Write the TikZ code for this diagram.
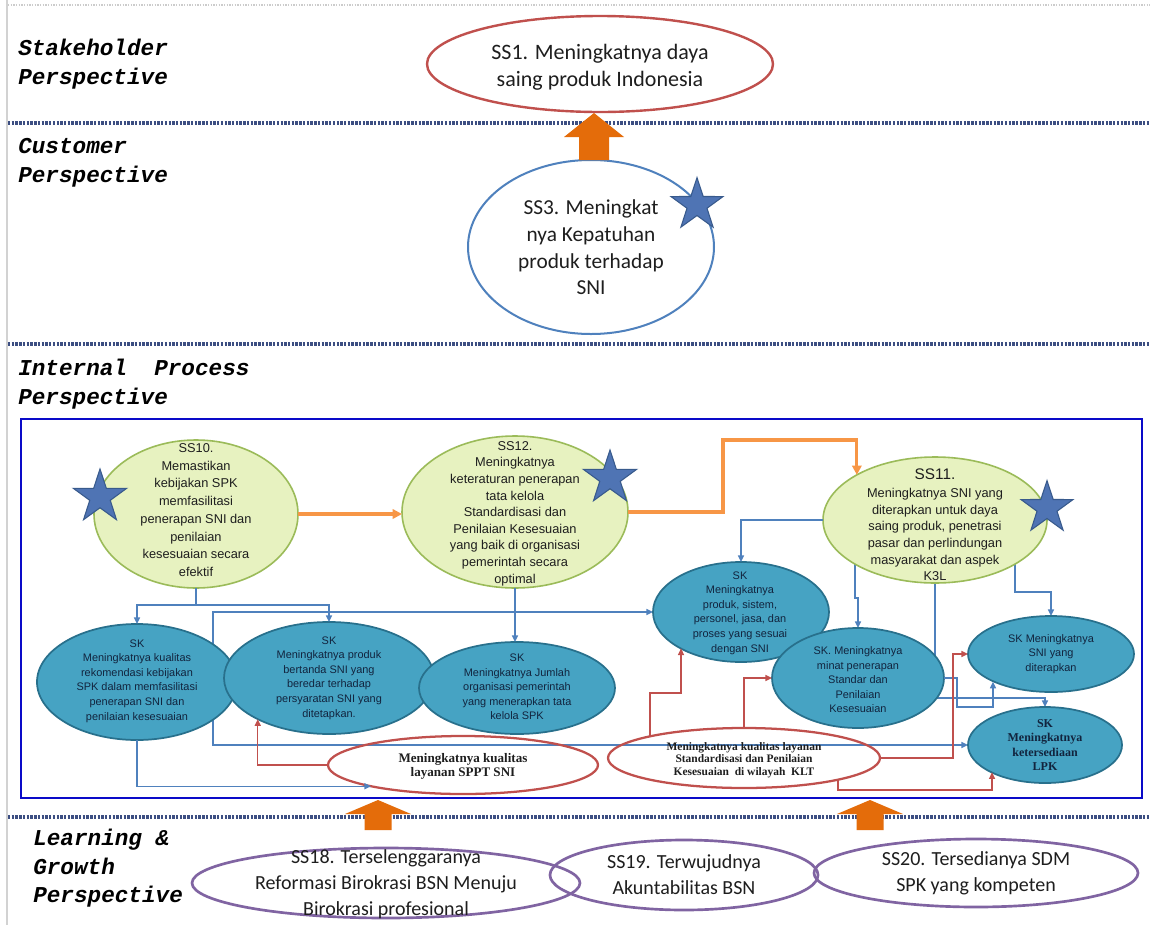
\documentclass[tikz,border=0pt]{standalone}
\usepackage{fontspec}
\usetikzlibrary{shapes.geometric,arrows.meta,calc}
\newfontfamily\fcal{Carlito}
\newfontfamily\fari{Liberation Sans}
\newfontfamily\fser{Liberation Serif}
\newfontfamily\fmono{Liberation Mono}
\definecolor{sepc}{RGB}{60,78,130}
\definecolor{redc}{RGB}{192,80,77}
\definecolor{bluec}{RGB}{79,129,189}
\definecolor{purc}{RGB}{128,100,162}
\definecolor{grnfill}{RGB}{231,242,192}
\definecolor{grnline}{RGB}{155,187,89}
\definecolor{tealfill}{RGB}{70,163,195}
\definecolor{tealline}{RGB}{40,112,140}
\definecolor{skt}{RGB}{18,36,62}
\definecolor{sst}{RGB}{30,30,30}
\definecolor{starc}{RGB}{79,116,180}
\definecolor{starl}{RGB}{56,90,140}
\definecolor{orc}{RGB}{228,108,10}
\definecolor{orl}{RGB}{247,150,70}
\definecolor{boxc}{RGB}{10,10,200}
\pgfdeclarelayer{bg}
\pgfsetlayers{bg,main}
\begin{document}
\begin{tikzpicture}[x=0.75pt,y=-0.75pt,
  >={Triangle[length=5pt,width=4.5pt]},
  ell/.style={ellipse,inner sep=0pt,outer sep=0pt},
  ssg/.style={ell,fill=grnfill,draw=grnline,line width=1.2pt},
  skb/.style={ell,fill=tealfill,draw=tealline,line width=1.3pt},
  rde/.style={ell,draw=redc,line width=1.7pt},
  pre/.style={ell,draw=purc,line width=2pt},
  strs/.style={star,star points=5,star point ratio=2.6,fill=starc,draw=starl,line width=0.8pt,inner sep=0pt,outer sep=0pt,minimum size=41pt},
  sepl/.style={draw=sepc,line width=2.6pt,dash pattern=on 1.8pt off 1pt},
  lab/.style={font=\fmono\bfseries\itshape\fontsize{17}{21.4}\selectfont,align=left,anchor=west,inner sep=0pt},
  bl/.style={draw=bluec,line width=1.1pt},
  rd/.style={draw=redc,line width=1.1pt},
  org/.style={draw=orl,line width=2.3pt,-{Triangle[length=7pt,width=7pt]}},
  blk/.style={fill=orc},
  topt/.style={font=\fcal\fontsize{16.5}{20.2}\selectfont,align=center,inner sep=0pt,text=sst},
  bott/.style={font=\fcal\fontsize{15}{19.5}\selectfont,align=center,inner sep=0pt,text=sst},
  ssx/.style={font=\fari\fontsize{9.6}{12.45}\selectfont,align=center,inner sep=0pt,text=sst},
  skx/.style={font=\fari\fontsize{8.2}{10.9}\selectfont,align=center,inner sep=0pt,text=skt},
  rtx/.style={font=\fser\bfseries\fontsize{9.8}{10.6}\selectfont,align=center,inner sep=0pt,text=sst}
]
\useasboundingbox (0,0) rectangle (1150,925);
\begin{pgfonlayer}{bg}
\fill[white] (0,0) rectangle (1150,925);
\end{pgfonlayer}

% page edges and separators
\draw[gray!35,line width=0.8pt] (7,0) -- (7,925);
\draw[gray!40,line width=1pt,dash pattern=on 1pt off 1pt] (8,5) -- (1150,5);
\draw[sepl] (8,123) -- (1150,123);
\draw[sepl] (8,344) -- (1150,344);
\draw[sepl] (8,817) -- (1150,817);

% perspective labels
\node[lab] (lS) at (18,64) {Stakeholder\\Perspective};
\node[lab] (lC) at (18,162.5) {Customer\\Perspective};
\node[lab] (lI) at (18,384) {Internal~~Process\\Perspective};
\node[lab] (lL) at (33,868.5) {Learning \&\\Growth\\Perspective};

% internal process frame
\draw[boxc,line width=2.2pt] (21,419) rectangle (1142,798);

% top objectives
\node[ell,draw=redc,fill=white,line width=1.8pt,minimum width=259.5pt,minimum height=72pt] (SS1) at (600,64) {};
\node[topt] (tSS1) at (600,67) {SS1. Meningkatnya daya\\saing produk Indonesia};
\node[ell,draw=bluec,line width=1.5pt,minimum width=184.5pt,minimum height=130.5pt] (SS3) at (591,247) {};
\node[font=\fcal\fontsize{16}{20}\selectfont,align=center,inner sep=0pt,text=sst] (tSS3) at (591,247.5) {SS3. Meningkat\\nya Kepatuhan\\produk terhadap\\SNI};
\node[strs] (st3) at (697,205) {};

% internal process: strategic objectives
\node[ssg,minimum width=153pt,minimum height=111pt] (SS10) at (196,514) {};
\node[ssx,font=\fari\fontsize{9.6}{13.3}\selectfont] (tSS10) at (196,510) {SS10.\\Memastikan\\kebijakan SPK\\memfasilitasi\\penerapan SNI dan\\penilaian\\kesesuaian secara\\efektif};
\node[strs,minimum size=42pt] (st10) at (100,497) {};

\node[ssg,minimum width=169.5pt,minimum height=114pt] (SS12) at (515,512) {};
\node[ssx] (tSS12) at (515,513.5) {SS12.\\Meningkatnya\\keteraturan penerapan\\tata kelola\\Standardisasi dan\\Penilaian Kesesuaian\\yang baik di organisasi\\pemerintah secara\\optimal};
\node[strs,minimum size=42pt] (st12) at (610,478) {};

\node[ssg,minimum width=168pt,minimum height=94.5pt] (SS11) at (935,520) {};
\node[ssx] (tSS11) at (935,525) {{\fontsize{11.5}{13}\selectfont SS11.}\\[1pt]Meningkatnya SNI yang\\diterapkan untuk daya\\saing produk, penetrasi\\pasar dan perlindungan\\masyarakat dan aspek\\K3L};
\node[strs] (st11) at (1047,508) {};

% key objectives
\node[skb,minimum width=150pt,minimum height=87pt] (SK1) at (137,682) {};
\node[skb,minimum width=157.5pt,minimum height=84pt] (SK2) at (329,678) {};
\node[skb,minimum width=147pt,minimum height=69pt] (SK3) at (517,688) {};
\node[skb,minimum width=132pt,minimum height=75pt] (SK4) at (741,612) {};
\node[skb,minimum width=129pt,minimum height=75pt] (SK5) at (858,678) {};
\node[skb,minimum width=124.5pt,minimum height=57pt] (SK6) at (1051,654) {};
\node[skb,minimum width=115.5pt,minimum height=57pt] (SK7) at (1045,745) {};
\node[skx] (tSK1) at (137,681) {SK\\Meningkatnya kualitas\\rekomendasi kebijakan\\SPK dalam memfasilitasi\\penerapan SNI dan\\penilaian kesesuaian};
\node[skx] (tSK2) at (329,678) {SK\\Meningkatnya produk\\bertanda SNI yang\\beredar terhadap\\persyaratan SNI yang\\ditetapkan.};
\node[skx] (tSK3) at (517,687) {SK\\Meningkatnya Jumlah\\organisasi pemerintah\\yang menerapkan tata\\kelola SPK};
\node[skx] (tSK4) at (740,613) {SK\\Meningkatnya\\produk, sistem,\\personel, jasa, dan\\proses yang sesuai\\dengan SNI};
\node[skx] (tSK5) at (858,680) {SK. Meningkatnya\\minat penerapan\\Standar dan\\Penilaian\\Kesesuaian};
\node[skx] (tSK6) at (1051,654) {SK Meningkatnya\\SNI yang\\diterapkan};
\node[rtx,font=\fser\bfseries\fontsize{9}{10.7}\selectfont,text=skt] (tSK7) at (1045,745) {SK\\Meningkatnya\\ketersediaan\\LPK};

% service quality ellipses
\node[rde,minimum width=202.5pt,minimum height=43.5pt] (R1) at (463,765) {};
\node[rtx] (tR1) at (463,766) {Meningkatnya kualitas\\layanan SPPT SNI};
\node[rde,minimum width=204pt,minimum height=45pt] (R2) at (744,758) {};
\node[rtx,font=\fser\bfseries\fontsize{8.6}{9.4}\selectfont] (tR2) at (744,760) {Meningkatnya kualitas layanan\\Standardisasi dan Penilaian\\Kesesuaian~~di wilayah~~KLT};

% background connectors (pass behind shapes)
\coordinate (b1) at (213,612);
\coordinate (b2) at (213,745);
\begin{pgfonlayer}{bg}
\draw[bl,->] ($(SS11.center)+(-80,0)$) -- ++(0,78) -| (SK5.north);
\draw[bl,->] ($(SS11.center)+(80,0)$) -- ++(0,72) -| (SK6.north);
\draw[bl,->] (SS11.center) -- ++(0,178) -| (SK7.north);
\draw[bl,<->] (SK4.west) -- (b1) -- (b2) -- (SK7.west);
\end{pgfonlayer}

% orange links
\coordinate (o1) at (723,440);
\draw[org] (SS10.east) -- (SS10.east -| SS12.west);
\draw[org] (SS12.east) -| (o1) -| (SS11.150);

% blue links
\coordinate (j10) at (196,605);
\draw[bl] (SS10.south) -- (j10);
\draw[bl,->] (j10) -| (SK1.north);
\draw[bl,->] (j10) -| (SK2.north);
\draw[bl,->] (SS12.south) -- (SS12.south |- SK3.north);
\draw[bl,->] (SS11.west) -| (SK4.north);
\coordinate (b3) at (957,707);
\coordinate (b4) at (993,707);
\draw[bl,->] (SK5.east) -| (b3) -- (b4) -- (b4 |- SK6.206);
\draw[bl,->] (SK1.south) |- (R1.193);

% red links
\draw[rd,->] (R1.west) -| (SK2.210);
\coordinate (k1) at (681,693);
\draw[rd,->] (R2.167) |- (k1) -- (k1 |- SK4.211);
\draw[rd,->] (R2.north) |- (SK5.west);
\coordinate (k2) at (953,654);
\draw[rd,->] (R2.east) -| (k2) -- (SK6.west);
\coordinate (k3) at (992,790);
\draw[rd,->] (R2.-13) |- (k3) -- (k3 |- SK7.207);

% learning & growth
\node[pre,minimum width=291pt,minimum height=52.5pt] (SS18) at (386,883) {};
\node[pre,minimum width=201pt,minimum height=52.5pt] (SS19) at (684,875) {};
\node[pre,minimum width=243pt,minimum height=51pt] (SS20) at (976,873) {};
\node[bott] (tSS18) at (386,884) {SS18. Terselenggaranya\\Reformasi Birokrasi BSN Menuju\\Birokrasi profesional};
\node[bott] (tSS19) at (684,875) {SS19. Terwujudnya\\Akuntabilitas BSN};
\node[bott] (tSS20) at (976,873) {SS20. Tersedianya SDM\\SPK yang kompeten};

% block arrows
\fill[blk] (579,160) -- (579,137) -- (564,137) -- (594,113) -- (624,137) -- (609,137) -- (609,160) -- cycle;
\fill[blk] (364.5,830) -- (364.5,814) -- (345,814) -- (378,800) -- (411,814) -- (391.5,814) -- (391.5,830) -- cycle;
\fill[blk] (856.5,830) -- (856.5,814) -- (837,814) -- (870,800) -- (903,814) -- (883.5,814) -- (883.5,830) -- cycle;
\end{tikzpicture}
\end{document}
